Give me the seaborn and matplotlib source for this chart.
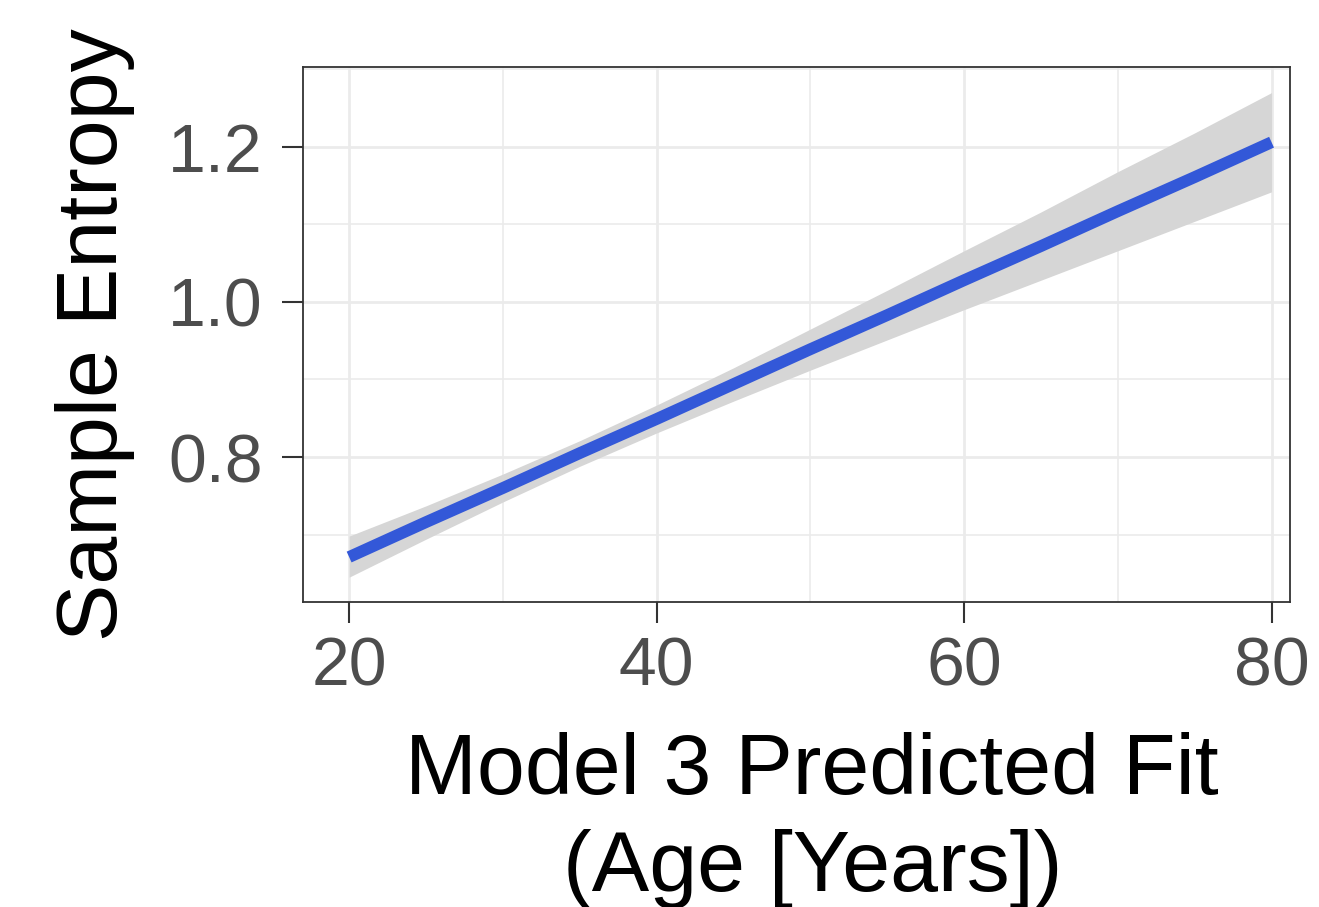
import numpy as np
import pandas as pd
import matplotlib
matplotlib.use("Agg")
import matplotlib.pyplot as plt
import seaborn as sns
from matplotlib.ticker import MultipleLocator

# Data
age = [20, 25, 30, 35, 40, 45, 50, 55, 60, 65, 70, 75, 80]
fit = [0.671, 0.716, 0.760, 0.805, 0.849, 0.894, 0.939, 0.983, 1.028, 1.072, 1.117, 1.161, 1.206]
lower = [0.645, 0.694, 0.742, 0.788, 0.831, 0.872, 0.912, 0.951, 0.990, 1.028, 1.066, 1.104, 1.142]
upper = [0.698, 0.737, 0.778, 0.821, 0.867, 0.915, 0.965, 1.015, 1.066, 1.116, 1.168, 1.218, 1.270]
x_ticks = [20, 40, 60, 80]
y_ticks = [0.8, 1.0, 1.2]
y_tick_labels = ["0.8", "1.0", "1.2"]

df = pd.DataFrame({"age": age, "fit": fit, "lower": lower, "upper": upper})

sns.set_theme(style="white")
plt.rcParams["font.family"] = ["Liberation Sans", "DejaVu Sans"]

W, H = 1319, 907
fig = plt.figure(figsize=(W / 100, H / 100), dpi=100)
L, R, T, B = 303, 1290, 67, 602
ax = fig.add_axes([L / W, (H - B) / H, (R - L) / W, (B - T) / H])

ax.fill_between(df["age"], df["lower"], df["upper"], color="#D6D6D6", linewidth=0, zorder=2)
sns.lineplot(data=df, x="age", y="fit", ax=ax, color="#3358D8", linewidth=8.5,
             solid_capstyle="butt", zorder=3)

ax.set_xlim(17.0, 81.2)
ax.set_ylim(0.613, 1.303)
ax.set_xticks(x_ticks)
ax.set_xticklabels([str(v) for v in x_ticks])
ax.set_yticks(y_ticks)
ax.set_yticklabels(y_tick_labels)
ax.xaxis.set_minor_locator(MultipleLocator(10))
ax.yaxis.set_minor_locator(MultipleLocator(0.1))

ax.grid(which="major", color="#EBEBEB", linewidth=2.0, zorder=0)
ax.grid(which="minor", color="#EBEBEB", linewidth=1.2, zorder=0)
ax.set_axisbelow(True)

for s in ax.spines.values():
    s.set_color("#333333")
    s.set_linewidth(1.3)
    s.set_visible(True)

ax.tick_params(axis="both", which="major", length=15, width=1.5, color="#333333",
               labelsize=49, labelcolor="#4D4D4D", direction="out")
ax.tick_params(axis="x", pad=9)
ax.tick_params(axis="y", pad=14)
ax.tick_params(axis="both", which="minor", length=0)
ax.tick_params(axis="x", bottom=True)
ax.tick_params(axis="y", left=True)

ax.set_xlabel("Model 3 Predicted Fit\n(Age [Years])", fontsize=62, color="black",
              linespacing=1.28)
ax.set_ylabel("Sample Entropy", fontsize=62, color="black")
ax.xaxis.set_label_coords(0.516, -0.243)
ax.yaxis.set_label_coords(-0.17, 0.5)

fig.savefig("out.png", dpi=100, facecolor="white")
